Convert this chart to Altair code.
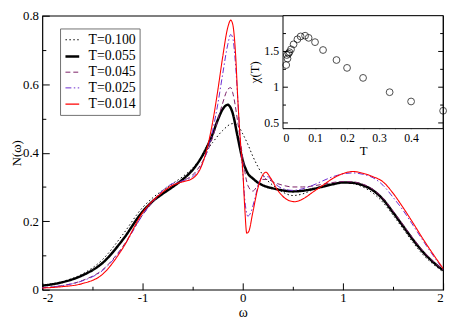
import altair as alt
import pandas as pd

W, H = 408, 279
SERIF = "Liberation Serif"

# ---------------- main panel data: N(omega) for five temperatures ----------------
w_100 = [-2.0, -1.8, -1.6, -1.4, -1.2, -1.0, -0.9, -0.8, -0.7, -0.6, -0.5, -0.4, -0.3, -0.2, -0.1, -0.05,
         0.0, 0.05, 0.1, 0.15, 0.2, 0.3, 0.4, 0.5, 0.6, 0.7, 0.8, 0.9, 1.0,
         1.1, 1.2, 1.3, 1.4, 1.5, 1.6, 1.7, 1.8, 1.9, 2.0]
n_100 = [0.012, 0.024, 0.046, 0.088, 0.160, 0.240, 0.268, 0.290, 0.310, 0.330, 0.355, 0.390, 0.430, 0.465, 0.485, 0.480,
         0.455, 0.425, 0.390, 0.360, 0.335, 0.305, 0.285, 0.275, 0.280, 0.292, 0.303, 0.310, 0.313,
         0.310, 0.300, 0.282, 0.255, 0.218, 0.178, 0.138, 0.102, 0.075, 0.052]

w_055 = [-2.0, -1.8, -1.6, -1.4, -1.2, -1.0, -0.9, -0.8, -0.7, -0.6, -0.5, -0.4, -0.3, -0.25, -0.2, -0.15,
         -0.1, -0.05, 0.0, 0.05, 0.1, 0.15, 0.2, 0.3, 0.4, 0.5, 0.6, 0.7, 0.8, 0.9, 1.0,
         1.1, 1.2, 1.3, 1.4, 1.5, 1.6, 1.7, 1.8, 1.9, 2.0]
n_055 = [0.012, 0.022, 0.042, 0.078, 0.145, 0.228, 0.258, 0.280, 0.300, 0.322, 0.350, 0.393, 0.455, 0.495, 0.527, 0.540,
         0.515, 0.445, 0.378, 0.340, 0.325, 0.313, 0.305, 0.296, 0.290, 0.287, 0.289, 0.294, 0.301, 0.308, 0.313,
         0.312, 0.305, 0.290, 0.264, 0.226, 0.186, 0.146, 0.110, 0.081, 0.057]

w_045 = [-2.0, -1.8, -1.6, -1.4, -1.2, -1.0, -0.9, -0.8, -0.7, -0.6, -0.5, -0.4, -0.3, -0.25, -0.2, -0.15,
         -0.12, -0.1, -0.05, 0.0, 0.05, 0.1, 0.15, 0.2, 0.25, 0.3, 0.4, 0.5, 0.6, 0.7, 0.8, 0.9, 1.0,
         1.1, 1.2, 1.3, 1.4, 1.5, 1.6, 1.7, 1.8, 1.9, 2.0]
n_045 = [0.006, 0.012, 0.027, 0.058, 0.125, 0.218, 0.255, 0.285, 0.305, 0.318, 0.335, 0.375, 0.445, 0.495, 0.545, 0.585,
         0.590, 0.575, 0.490, 0.385, 0.305, 0.288, 0.305, 0.322, 0.322, 0.315, 0.305, 0.300, 0.300, 0.303, 0.308, 0.313, 0.316,
         0.315, 0.308, 0.293, 0.267, 0.230, 0.190, 0.150, 0.113, 0.083, 0.058]

w_025 = [-2.0, -1.8, -1.6, -1.4, -1.2, -1.0, -0.9, -0.8, -0.7, -0.6, -0.5, -0.4, -0.3, -0.25, -0.2, -0.15,
         -0.12, -0.1, -0.07, -0.05, -0.02, 0.0, 0.02, 0.05, 0.08, 0.12, 0.16, 0.2, 0.25, 0.3, 0.4, 0.5, 0.6, 0.7, 0.8, 0.9,
         1.0, 1.1, 1.2, 1.3, 1.4, 1.5, 1.6, 1.7, 1.8, 1.9, 2.0]
n_025 = [0.006, 0.012, 0.026, 0.056, 0.122, 0.218, 0.258, 0.290, 0.310, 0.318, 0.330, 0.370, 0.465, 0.540, 0.630, 0.715,
         0.745, 0.735, 0.650, 0.560, 0.410, 0.345, 0.265, 0.215, 0.225, 0.265, 0.310, 0.330, 0.330, 0.315, 0.295, 0.290,
         0.295, 0.305, 0.318, 0.330,
         0.338, 0.341, 0.337, 0.327, 0.305, 0.270, 0.232, 0.188, 0.143, 0.100, 0.060]

w_014 = [-2.0, -1.8, -1.6, -1.4, -1.2, -1.0, -0.8, -0.7, -0.6, -0.5, -0.4, -0.35, -0.3, -0.25, -0.2, -0.15,
         -0.12, -0.1, -0.07, -0.05, -0.02, 0.0, 0.02, 0.04, 0.06, 0.1, 0.15, 0.2, 0.23, 0.28, 0.35, 0.45, 0.52, 0.6, 0.7,
         0.8, 0.9, 1.0, 1.1, 1.2, 1.3, 1.4, 1.5, 1.6, 1.7, 1.8, 1.9, 2.0]
n_014 = [0.005, 0.009, 0.018, 0.045, 0.120, 0.225, 0.285, 0.305, 0.315, 0.325, 0.370, 0.420, 0.490, 0.580, 0.680, 0.765,
         0.787, 0.775, 0.680, 0.560, 0.420, 0.350, 0.240, 0.165, 0.170, 0.225, 0.295, 0.335, 0.343, 0.325, 0.290, 0.262,
         0.257, 0.265, 0.285,
         0.305, 0.325, 0.339, 0.345, 0.340, 0.330, 0.315, 0.282, 0.240, 0.195, 0.148, 0.104, 0.062]

series_names = ["T=0.100", "T=0.055", "T=0.045", "T=0.025", "T=0.014"]
series_colors = ["#000000", "#000000", "#7a1f66", "#6a2ad0", "#ff0000"]
series_dashes = [[1.5, 2.5], [1, 0], [5, 3], [6, 2.5, 1.5, 2.5], [1, 0]]
series_widths = [1.0, 2.5, 1.0, 1.0, 1.1]

# ---------------- inset data: chi(T) ----------------
t_vals = [0.010, 0.012, 0.014, 0.017, 0.020, 0.025, 0.033, 0.045, 0.055, 0.069, 0.080, 0.100,
          0.125, 0.167, 0.200, 0.250, 0.333, 0.400, 0.500]
chi_vals = [1.31, 1.45, 1.40, 1.47, 1.49, 1.53, 1.60, 1.67, 1.71, 1.72, 1.69, 1.63,
            1.52, 1.38, 1.27, 1.13, 0.93, 0.80, 0.67]

# axis configuration values
main_x_major = [-2, -1, 0, 1, 2]
main_x_minor = [-1.5, -0.5, 0.5, 1.5]
main_y_major = [0, 0.2, 0.4, 0.6, 0.8]
main_y_minor = [0.1, 0.3, 0.5, 0.7]
inset_x_major = [0, 0.1, 0.2, 0.3, 0.4]
inset_x_minor = [0.05, 0.15, 0.25, 0.35, 0.45]
inset_y_major = [0.5, 1, 1.5]
inset_y_labels = ["0.5", "1", "1.5"]
inset_y_minor = [0.75, 1.25, 1.75]
INSET_T_DOMAIN = [0, 0.5]
INSET_CHI_DOMAIN = [0.42, 2.0]
INSET_LEFT = 245      # inset plot area left edge inside the main plot (px)
INSET_BOTTOM = 115    # inset plot area bottom edge inside the main plot (px)

rows = []
for name, ws, ns in zip(series_names, [w_100, w_055, w_045, w_025, w_014],
                        [n_100, n_055, n_045, n_025, n_014]):
    for a, b in zip(ws, ns):
        rows.append({"series": name, "w": a, "N": b})
df = pd.DataFrame(rows)
inset_df = pd.DataFrame({"T": t_vals, "chi": chi_vals})
frame_df = pd.DataFrame({"t0": [INSET_T_DOMAIN[0]], "t1": [INSET_T_DOMAIN[1]],
                         "c0": [INSET_CHI_DOMAIN[0]], "c1": [INSET_CHI_DOMAIN[1]]})

main_xs = alt.Scale(domain=[-2, 2], nice=False, zero=False)
main_ys = alt.Scale(domain=[0, 0.8], nice=False, zero=False)


def ins_xs():
    return alt.Scale(domain=INSET_T_DOMAIN, range=[INSET_LEFT, W], nice=False, zero=False)


def ins_ys():
    return alt.Scale(domain=INSET_CHI_DOMAIN, range=[INSET_BOTTOM, 0], nice=False, zero=False)


LBL = "'' + datum.value"
ax_common = dict(domain=False, grid=False, tickColor="black", labelColor="black", titleColor="black",
                 labelFont=SERIF, titleFont=SERIF, titleFontWeight="normal")

MT, mt = 7, 3.5   # main tick lengths
IT, it = 5, 3     # inset tick lengths

lines = alt.Chart(df).mark_line(interpolate="monotone").encode(
    x=alt.X("w:Q", scale=main_xs,
            axis=alt.Axis(orient="bottom", values=main_x_major, tickSize=MT, offset=-MT, labelPadding=2,
                          labelExpr=LBL, labelFontSize=13, title="ω", titleFontSize=14,
                          titleBaseline="alphabetic", titleY=34, **ax_common)),
    y=alt.Y("N:Q", scale=main_ys,
            axis=alt.Axis(orient="left", values=main_y_major, tickSize=MT, offset=-MT, labelPadding=4,
                          labelExpr=LBL, labelFontSize=13, title="N(ω)", titleFontSize=13, titlePadding=-1,
                          **ax_common)),
    color=alt.Color("series:N", scale=alt.Scale(domain=series_names, range=series_colors),
                    legend=alt.Legend(orient="none", legendX=18, legendY=13, title=None, fillColor="white",
                                      strokeColor="#707070", padding=4, symbolType="stroke", symbolSize=196,
                                      labelFont=SERIF, labelFontSize=14, labelColor="black", rowPadding=1,
                                      labelOffset=8)),
    strokeDash=alt.StrokeDash("series:N", scale=alt.Scale(domain=series_names, range=series_dashes),
                              legend=alt.Legend(orient="none", legendX=18, legendY=13, title=None)),
    strokeWidth=alt.StrokeWidth("series:N",
                                scale=alt.Scale(type="ordinal", domain=series_names, range=series_widths),
                                legend=alt.Legend(orient="none", legendX=18, legendY=13, title=None)),
    order=alt.Order("w:Q"),
)

main_minor = alt.Chart(df).mark_point(opacity=0).encode(
    x=alt.X("w:Q", scale=main_xs,
            axis=alt.Axis(orient="bottom", values=main_x_minor, tickSize=mt, offset=-mt, labels=False,
                          title=None, **ax_common)),
    y=alt.Y("N:Q", scale=main_ys,
            axis=alt.Axis(orient="left", values=main_y_minor, tickSize=mt, offset=-mt, labels=False,
                          title=None, **ax_common)),
)

frame = alt.Chart(frame_df).mark_rect(fill="white", stroke="black", strokeWidth=1).encode(
    x=alt.X("t0:Q", scale=ins_xs(), axis=None), x2="t1:Q",
    y=alt.Y("c0:Q", scale=ins_ys(), axis=None), y2="c1:Q",
)

circles = alt.Chart(inset_df).mark_point(shape="circle", filled=False, size=48, stroke="black",
                                         strokeWidth=1, clip=False).encode(
    x=alt.X("T:Q", scale=ins_xs(),
            axis=alt.Axis(orient="bottom", values=inset_x_major, tickSize=IT, offset=-(H - INSET_BOTTOM) - IT,
                          labelPadding=4, labelExpr=LBL, labelFontSize=12, title="T", titleFontSize=13,
                          titlePadding=1, **ax_common)),
    y=alt.Y("chi:Q", scale=ins_ys(), axis=None),
)


def x_tick_axis(values, size, orient, off):
    return alt.Chart(inset_df).mark_point(opacity=0).encode(
        x=alt.X("T:Q", scale=ins_xs(),
                axis=alt.Axis(orient=orient, values=values, tickSize=size, offset=off, labels=False,
                              title=None, **ax_common)),
        y=alt.Y("chi:Q", scale=ins_ys(), axis=None),
    )


ins_x_minor_b = x_tick_axis(inset_x_minor, it, "bottom", -(H - INSET_BOTTOM) - it)
ins_x_major_t = x_tick_axis(inset_x_major, IT, "top", -IT)
ins_x_minor_t = x_tick_axis(inset_x_minor, it, "top", -it)

# inset y axis: ticks and labels placed through the inset scales
ytick_df = pd.DataFrame({"v": inset_y_major, "lab": inset_y_labels,
                         "left": INSET_T_DOMAIN[0], "right": INSET_T_DOMAIN[1]})
ytick_minor_df = pd.DataFrame({"v": inset_y_minor, "left": INSET_T_DOMAIN[0], "right": INSET_T_DOMAIN[1]})


def y_ticks(data, side, size):
    sign = 1 if side == "left" else -1
    return alt.Chart(data).mark_tick(orient="horizontal", size=size, thickness=1, color="black",
                                     xOffset=sign * size / 2, opacity=1).encode(
        x=alt.X(f"{side}:Q", scale=ins_xs(), axis=None),
        y=alt.Y("v:Q", scale=ins_ys(), axis=None),
    )


ylabels = alt.Chart(ytick_df).mark_text(align="right", baseline="middle", dx=-4, font=SERIF, fontSize=12,
                                        color="black").encode(
    x=alt.X("left:Q", scale=ins_xs(), axis=None),
    y=alt.Y("v:Q", scale=ins_ys(), axis=None),
    text="lab:N",
)

ytitle_df = pd.DataFrame({"left": [INSET_T_DOMAIN[0]], "mid": [sum(INSET_CHI_DOMAIN) / 2], "t": ["χ(T)"]})
ytitle = alt.Chart(ytitle_df).mark_text(angle=270, align="center", baseline="middle", xOffset=-28,
                                        font=SERIF, fontSize=13, color="black").encode(
    x=alt.X("left:Q", scale=ins_xs(), axis=None),
    y=alt.Y("mid:Q", scale=ins_ys(), axis=None),
    text="t:N",
)

chart = alt.layer(
    lines, main_minor, frame, circles, ins_x_minor_b, ins_x_major_t, ins_x_minor_t,
    y_ticks(ytick_df, "left", IT), y_ticks(ytick_minor_df, "left", it),
    y_ticks(ytick_df, "right", IT), y_ticks(ytick_minor_df, "right", it),
    ylabels, ytitle,
).resolve_scale(
    x="independent", y="independent"
).properties(
    width=W, height=H,
    autosize=alt.AutoSizeParams(type="none"),
    padding={"left": 35, "top": 5, "right": 6, "bottom": 29},
    background="white",
).configure_view(stroke="black", strokeWidth=1.2)

chart.save("out.html", embed_options={"renderer": "svg", "actions": False})
